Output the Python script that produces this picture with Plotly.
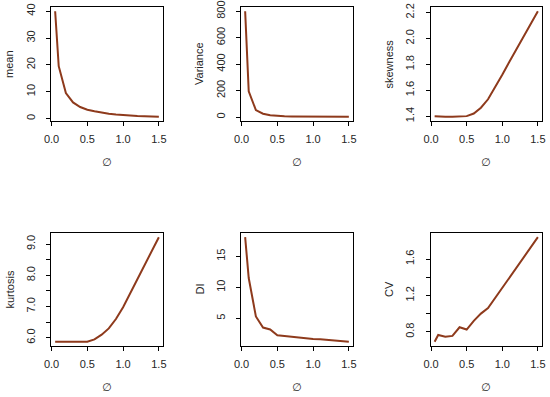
import plotly.graph_objects as go

phi = [0.05, 0.1, 0.2, 0.3, 0.4, 0.5, 0.6, 0.7, 0.8, 0.9, 1.0, 1.1, 1.2, 1.3, 1.4, 1.5]

mean_vals = [40.0, 19.5, 9.5, 6.0, 4.3, 3.3, 2.7, 2.2, 1.8, 1.5, 1.25, 1.1, 0.95, 0.85, 0.75, 0.65]
variance_vals = [800, 195, 52, 25, 13, 8, 5.5, 4.2, 3.4, 2.9, 2.5, 2.3, 2.1, 2.0, 1.9, 1.8]
skew_vals = [1.40, 1.397, 1.395, 1.395, 1.397, 1.40, 1.42, 1.465, 1.53, 1.62, 1.72, 1.82, 1.92, 2.02, 2.115, 2.21]
kurt_vals = [5.87, 5.87, 5.87, 5.87, 5.87, 5.87, 5.95, 6.1, 6.3, 6.6, 6.98, 7.42, 7.88, 8.33, 8.78, 9.22]
di_vals = [18.1, 11.5, 5.3, 3.5, 3.2, 2.25, 2.15, 2.0, 1.85, 1.72, 1.65, 1.6, 1.5, 1.4, 1.3, 1.2]
cv_vals = [0.69, 0.765, 0.745, 0.755, 0.85, 0.825, 0.92, 1.0, 1.06, 1.17, 1.28, 1.39, 1.50, 1.61, 1.72, 1.84]

x_ticks = [0.0, 0.5, 1.0, 1.5]
x_ticktext = ["0.0", "0.5", "1.0", "1.5"]

panels = [
    ("mean", mean_vals, [0, 10, 20, 30, 40], ["0", "10", "20", "30", "40"]),
    ("Variance", variance_vals, [0, 200, 400, 600, 800], ["0", "200", "400", "600", "800"]),
    ("skewness", skew_vals, [1.4, 1.6, 1.8, 2.0, 2.2], ["1.4", "1.6", "1.8", "2.0", "2.2"]),
    ("kurtosis", kurt_vals, [6.0, 6.5, 7.0, 7.5, 8.0, 8.5, 9.0], ["6.0", "", "7.0", "", "8.0", "", "9.0"]),
    ("DI", di_vals, [5, 10, 15], ["5", "10", "15"]),
    ("CV", cv_vals, [0.8, 1.0, 1.2, 1.4, 1.6], ["0.8", "", "1.2", "", "1.6"]),
]

W, H = 550, 397
cols_px = [(51, 163), (241, 353), (430.5, 542)]
rows_px = [(7, 121), (233, 346)]

def pad_range(v):
    lo, hi = min(v), max(v)
    d = (hi - lo) * 0.04
    return [lo - d, hi + d]

fig = go.Figure()
line_color = "#8E3A1C"
font_fam = "Liberation Sans, Arial, sans-serif"
txt_color = "#262626"
annotations = []

for i, (name, vals, yt, ytt) in enumerate(panels):
    r, c = divmod(i, 3)
    x0, x1 = cols_px[c]
    y0, y1 = rows_px[r]
    xa = "x" if i == 0 else f"x{i+1}"
    ya = "y" if i == 0 else f"y{i+1}"
    fig.add_trace(go.Scatter(x=phi, y=vals, mode="lines",
                             line=dict(color=line_color, width=2),
                             xaxis=xa, yaxis=ya, showlegend=False))
    axis_common = dict(showline=True, mirror=True, linecolor="black", linewidth=1,
                       ticks="outside", ticklen=4, tickcolor="black", tickwidth=1,
                       showgrid=False, zeroline=False, automargin=False,
                       tickfont=dict(family=font_fam, size=11, color=txt_color))
    xkey = "xaxis" if i == 0 else f"xaxis{i+1}"
    ykey = "yaxis" if i == 0 else f"yaxis{i+1}"
    fig.layout[xkey] = dict(domain=[x0 / W, x1 / W], anchor=ya,
                            range=[-0.008, 1.558], tickvals=x_ticks, ticktext=x_ticktext,
                            ticklabelstandoff=4, **axis_common)
    fig.layout[ykey] = dict(domain=[1 - y1 / H, 1 - y0 / H], anchor=xa,
                            range=pad_range(vals), tickvals=yt, ticktext=ytt,
                            tickangle=-90, ticklabelstandoff=7, **axis_common)
    annotations.append(dict(text=name, xref="paper", yref="paper",
                            x=(x0 - 42) / W, y=1 - (y0 + y1) / 2 / H,
                            textangle=-90, showarrow=False,
                            xanchor="center", yanchor="middle",
                            font=dict(family=font_fam, size=11, color=txt_color)))
    annotations.append(dict(text="∅", xref="paper", yref="paper",
                            x=(x0 + x1) / 2 / W, y=1 - (y1 + 41) / H,
                            showarrow=False, xanchor="center", yanchor="middle",
                            font=dict(family="DejaVu Sans", size=11, color=txt_color)))

fig.update_layout(width=W, height=H, margin=dict(l=0, r=0, t=0, b=0, autoexpand=False),
                  paper_bgcolor="white", plot_bgcolor="white",
                  annotations=annotations)

fig.write_html("out.html", config={"responsive": False, "displayModeBar": False},
               post_script="document.body.style.margin='0';document.body.style.overflow='hidden';")
